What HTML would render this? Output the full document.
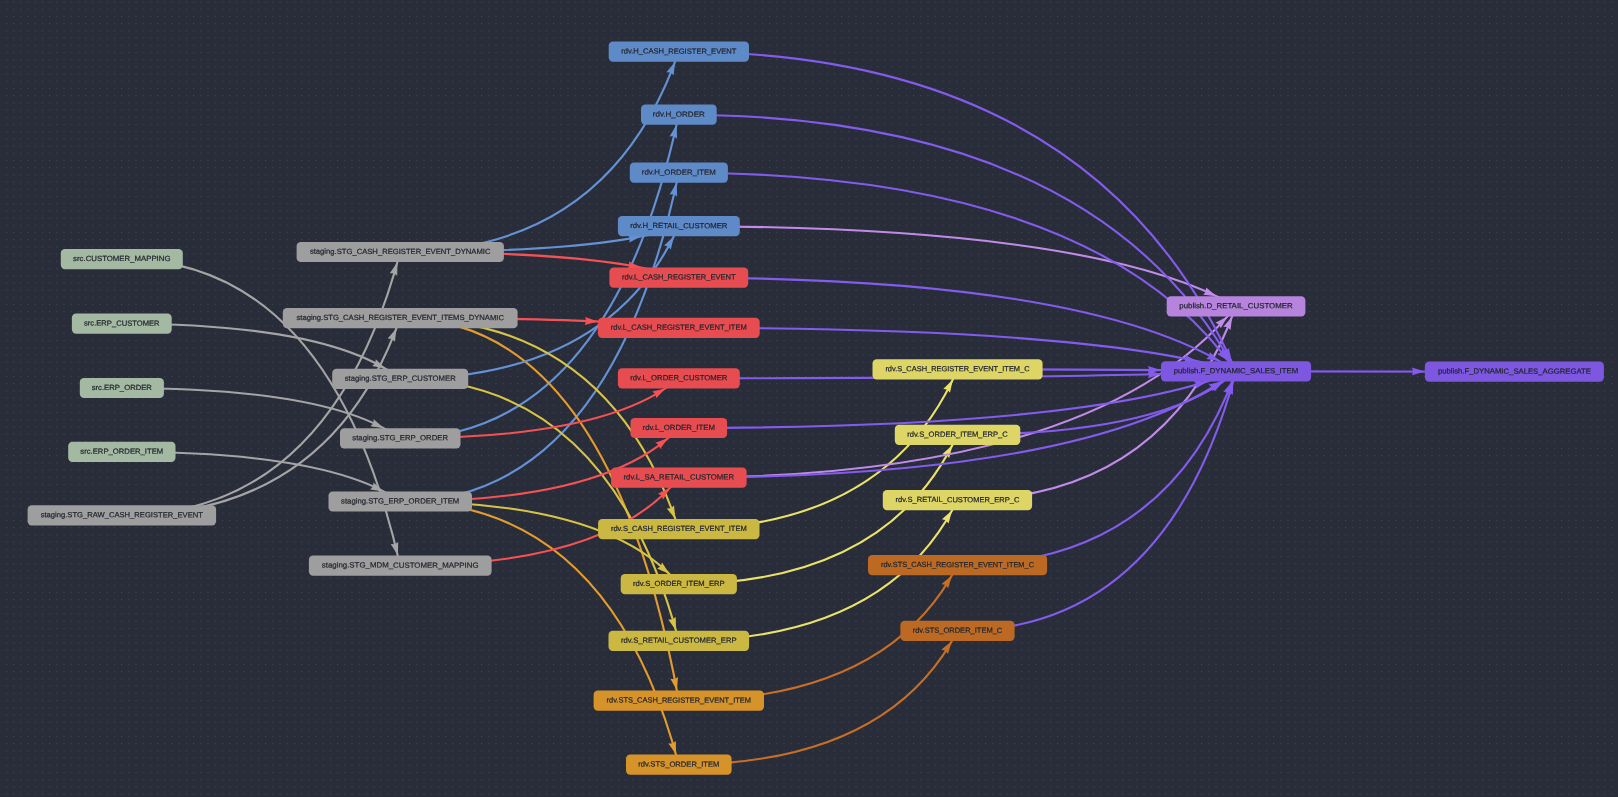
<!DOCTYPE html><html><head><meta charset="utf-8"><title>Lineage</title><style>html,body{margin:0;padding:0;background:#292d3a;overflow:hidden}svg{display:block;will-change:transform}text{font-family:"Liberation Sans",sans-serif;font-size:7.5px;fill:#23262f;stroke:#23262f;stroke-width:0.22px}</style></head><body>
<svg width="1618" height="797" viewBox="0 0 1618 797">
<defs><pattern id="dots" x="5.9" y="1.5" width="7.2" height="7.2" patternUnits="userSpaceOnUse"><rect x="-0.03" y="-0.03" width="1.06" height="1.06" fill="#434858"/></pattern></defs>
<rect width="1618" height="797" fill="#292d3a"/><rect width="1618" height="797" fill="url(#dots)"/>
<g stroke-width="2.1">
<path d="M121.8 259.1Q330.6 259.1 400.2 565.7" stroke="#a5a5a5" fill="none"/><polygon points="397.9,555.6 390.7,544.1 394.8,544.3 398.2,542.0" fill="#a5a5a5" stroke="none"/>
<path d="M121.8 323.7Q330.6 323.7 400.2 378.8" stroke="#a5a5a5" fill="none"/><polygon points="385.5,368.7 372.2,366.1 375.2,363.3 375.8,359.2" fill="#a5a5a5" stroke="none"/>
<path d="M121.8 388.0Q330.6 388.0 400.2 438.3" stroke="#a5a5a5" fill="none"/><polygon points="383.9,428.2 370.5,426.3 373.3,423.3 373.8,419.2" fill="#a5a5a5" stroke="none"/>
<path d="M121.8 451.8Q330.6 451.8 400.2 501.5" stroke="#a5a5a5" fill="none"/><polygon points="383.7,491.4 370.2,489.5 373.0,486.5 373.5,482.4" fill="#a5a5a5" stroke="none"/>
<path d="M121.8 515.4Q330.6 515.4 400.2 252.0" stroke="#a5a5a5" fill="none"/><polygon points="397.5,262.1 397.2,275.7 393.9,273.2 389.8,273.3" fill="#a5a5a5" stroke="none"/>
<path d="M121.8 515.4Q330.6 515.4 400.2 318.1" stroke="#a5a5a5" fill="none"/><polygon points="396.5,328.2 394.9,341.7 391.8,338.9 387.7,338.5" fill="#a5a5a5" stroke="none"/>
<path d="M400.2 252.0Q609.2 252.0 678.8 51.7" stroke="#6592d4" fill="none"/><polygon points="675.2,61.8 673.6,75.3 670.5,72.5 666.4,72.2" fill="#6592d4" stroke="none"/>
<path d="M400.2 438.3Q609.2 438.3 678.8 114.7" stroke="#6592d4" fill="none"/><polygon points="676.6,124.8 677.1,138.4 673.6,136.1 669.5,136.4" fill="#6592d4" stroke="none"/>
<path d="M400.2 501.5Q609.2 501.5 678.8 172.7" stroke="#6592d4" fill="none"/><polygon points="676.6,182.8 677.2,196.4 673.7,194.1 669.6,194.4" fill="#6592d4" stroke="none"/>
<path d="M400.2 318.1Q609.2 318.1 678.8 700.7" stroke="#e39c2d" fill="none"/><polygon points="676.9,690.6 670.4,678.7 674.4,679.2 678.0,677.1" fill="#e39c2d" stroke="none"/>
<path d="M400.2 501.5Q609.2 501.5 678.8 764.7" stroke="#e39c2d" fill="none"/><polygon points="676.1,754.6 668.4,743.4 672.5,743.5 675.8,741.0" fill="#e39c2d" stroke="none"/>
<path d="M400.2 252.0Q609.2 252.0 678.8 226.2" stroke="#6592d4" fill="none"/><polygon points="641.4,236.3 629.3,242.4 629.9,238.3 628.0,234.7" fill="#6592d4" stroke="none"/>
<path d="M400.2 378.8Q609.2 378.8 678.8 226.2" stroke="#6592d4" fill="none"/><polygon points="674.0,236.3 670.8,249.5 668.1,246.4 664.1,245.6" fill="#6592d4" stroke="none"/>
<path d="M400.2 318.1Q609.2 318.1 678.8 529.1" stroke="#d7c346" fill="none"/><polygon points="675.4,519.0 666.8,508.4 670.9,508.2 674.0,505.5" fill="#d7c346" stroke="none"/>
<path d="M400.2 378.8Q609.2 378.8 678.8 640.8" stroke="#d7c346" fill="none"/><polygon points="676.1,630.7 668.3,619.5 672.4,619.6 675.7,617.1" fill="#d7c346" stroke="none"/>
<path d="M400.2 501.5Q609.2 501.5 678.8 584.1" stroke="#d7c346" fill="none"/><polygon points="669.5,574.0 657.1,568.5 660.6,566.4 662.1,562.6" fill="#d7c346" stroke="none"/>
<path d="M400.2 252.0Q609.2 252.0 678.8 277.6" stroke="#f55255" fill="none"/><polygon points="641.1,267.5 627.6,269.1 629.5,265.5 628.9,261.4" fill="#f55255" stroke="none"/>
<path d="M400.2 318.1Q609.2 318.1 678.8 327.8" stroke="#f55255" fill="none"/><polygon points="597.9,321.5 584.8,324.9 586.2,321.0 585.1,317.1" fill="#f55255" stroke="none"/>
<path d="M400.2 438.3Q609.2 438.3 678.8 378.3" stroke="#f55255" fill="none"/><polygon points="665.5,388.4 656.2,398.3 655.4,394.3 652.3,391.6" fill="#f55255" stroke="none"/>
<path d="M400.2 501.5Q609.2 501.5 678.8 428.0" stroke="#f55255" fill="none"/><polygon points="668.2,438.1 660.1,449.0 658.8,445.1 655.4,442.8" fill="#f55255" stroke="none"/>
<path d="M400.2 565.7Q609.2 565.7 678.8 477.6" stroke="#f55255" fill="none"/><polygon points="670.1,487.7 663.2,499.4 661.5,495.6 657.9,493.7" fill="#f55255" stroke="none"/>
<path d="M678.8 529.1Q887.8 529.1 957.5 369.3" stroke="#eae26b" fill="none"/><polygon points="952.9,379.4 950.0,392.7 947.2,389.6 943.2,388.9" fill="#eae26b" stroke="none"/>
<path d="M678.8 584.1Q887.8 584.1 957.5 434.8" stroke="#eae26b" fill="none"/><polygon points="952.5,444.9 949.2,458.1 946.6,455.0 942.5,454.1" fill="#eae26b" stroke="none"/>
<path d="M678.8 640.8Q887.8 640.8 957.5 500.2" stroke="#eae26b" fill="none"/><polygon points="952.2,510.3 948.5,523.4 945.9,520.2 941.9,519.2" fill="#eae26b" stroke="none"/>
<path d="M678.8 700.7Q887.8 700.7 957.5 565.2" stroke="#c76f26" fill="none"/><polygon points="952.0,575.3 948.1,588.3 945.5,585.1 941.6,584.0" fill="#c76f26" stroke="none"/>
<path d="M678.8 764.7Q887.8 764.7 957.5 630.9" stroke="#c76f26" fill="none"/><polygon points="951.9,641.0 947.9,654.0 945.4,650.7 941.4,649.6" fill="#c76f26" stroke="none"/>
<path d="M678.8 226.2Q1096.7 226.2 1236.0 306.3" stroke="#c18ce9" fill="none"/><polygon points="1216.7,296.2 1203.2,294.8 1205.8,291.7 1206.1,287.6" fill="#c18ce9" stroke="none"/>
<path d="M678.8 477.6Q1096.7 477.6 1236.0 306.3" stroke="#c18ce9" fill="none"/><polygon points="1227.4,316.4 1220.8,328.3 1219.0,324.6 1215.4,322.7" fill="#c18ce9" stroke="none"/>
<path d="M957.5 500.2Q1166.4 500.2 1236.0 306.3" stroke="#c18ce9" fill="none"/><polygon points="1232.2,316.4 1230.5,329.9 1227.4,327.1 1223.4,326.7" fill="#c18ce9" stroke="none"/>
<path d="M678.8 51.7Q1096.7 51.7 1236.0 371.3" stroke="#845ced" fill="none"/><polygon points="1231.5,361.2 1222.0,351.5 1226.0,350.9 1228.9,347.9" fill="#845ced" stroke="none"/>
<path d="M678.8 114.7Q1096.7 114.7 1236.0 371.3" stroke="#845ced" fill="none"/><polygon points="1230.4,361.2 1219.9,352.5 1223.9,351.5 1226.4,348.2" fill="#845ced" stroke="none"/>
<path d="M678.8 172.7Q1096.7 172.7 1236.0 371.3" stroke="#845ced" fill="none"/><polygon points="1228.6,361.2 1217.1,354.0 1220.9,352.4 1223.0,348.8" fill="#845ced" stroke="none"/>
<path d="M678.8 277.6Q1096.7 277.6 1236.0 371.3" stroke="#845ced" fill="none"/><polygon points="1219.7,361.2 1206.3,358.9 1209.2,356.0 1209.8,351.9" fill="#845ced" stroke="none"/>
<path d="M678.8 327.8Q1096.7 327.8 1236.0 371.3" stroke="#845ced" fill="none"/><polygon points="1197.3,361.2 1183.8,362.6 1185.8,359.0 1185.2,354.9" fill="#845ced" stroke="none"/>
<path d="M678.8 378.3Q1096.7 378.3 1236.0 371.3" stroke="#845ced" fill="none"/><polygon points="1161.0,374.0 1148.0,378.3 1149.3,374.3 1147.9,370.5" fill="#845ced" stroke="none"/>
<path d="M678.8 428.0Q1096.7 428.0 1236.0 371.3" stroke="#845ced" fill="none"/><polygon points="1207.5,381.4 1196.0,388.6 1196.2,384.5 1194.0,381.0" fill="#845ced" stroke="none"/>
<path d="M678.8 477.6Q1096.7 477.6 1236.0 371.3" stroke="#845ced" fill="none"/><polygon points="1221.8,381.4 1212.4,391.3 1211.6,387.2 1208.6,384.5" fill="#845ced" stroke="none"/>
<path d="M957.5 369.3Q1166.4 369.3 1236.0 371.3" stroke="#845ced" fill="none"/><polygon points="1160.9,370.0 1147.9,373.8 1149.3,369.9 1148.0,366.0" fill="#845ced" stroke="none"/>
<path d="M957.5 434.8Q1166.4 434.8 1236.0 371.3" stroke="#845ced" fill="none"/><polygon points="1223.5,381.4 1214.5,391.6 1213.6,387.6 1210.4,385.0" fill="#845ced" stroke="none"/>
<path d="M957.5 565.2Q1166.4 565.2 1236.0 371.3" stroke="#845ced" fill="none"/><polygon points="1232.2,381.4 1230.5,394.9 1227.4,392.1 1223.4,391.7" fill="#845ced" stroke="none"/>
<path d="M957.5 630.9Q1166.4 630.9 1236.0 371.3" stroke="#845ced" fill="none"/><polygon points="1233.2,381.4 1232.9,395.0 1229.6,392.5 1225.4,392.5" fill="#845ced" stroke="none"/>
<path d="M1236.0 371.3Q1444.8 371.3 1514.4 371.7" stroke="#845ced" fill="none"/><polygon points="1424.9,371.4 1411.9,375.3 1413.2,371.4 1411.9,367.5" fill="#845ced" stroke="none"/>
</g>
<g text-anchor="middle" style="filter:brightness(1)">
<rect x="60.8" y="249.0" width="122.0" height="20.2" rx="4.2" fill="#a3b9a2"/>
<text x="121.8" y="261.05" textLength="97.4" lengthAdjust="spacingAndGlyphs" transform="rotate(0.05 121.8 259.1)">src.CUSTOMER_MAPPING</text>
<rect x="71.9" y="313.6" width="99.8" height="20.2" rx="4.2" fill="#a3b9a2"/>
<text x="121.8" y="325.65" textLength="75.6" lengthAdjust="spacingAndGlyphs" transform="rotate(0.05 121.8 323.7)">src.ERP_CUSTOMER</text>
<rect x="79.8" y="377.9" width="84.1" height="20.2" rx="4.2" fill="#a3b9a2"/>
<text x="121.8" y="389.95" textLength="60.3" lengthAdjust="spacingAndGlyphs" transform="rotate(0.05 121.8 388.0)">src.ERP_ORDER</text>
<rect x="68.2" y="441.7" width="107.3" height="20.2" rx="4.2" fill="#a3b9a2"/>
<text x="121.8" y="453.75" textLength="82.9" lengthAdjust="spacingAndGlyphs" transform="rotate(0.05 121.8 451.8)">src.ERP_ORDER_ITEM</text>
<rect x="27.6" y="505.3" width="188.5" height="20.2" rx="4.2" fill="#9e9e9e"/>
<text x="121.8" y="517.35" textLength="162.2" lengthAdjust="spacingAndGlyphs" transform="rotate(0.05 121.8 515.4)">staging.STG_RAW_CASH_REGISTER_EVENT</text>
<rect x="296.6" y="241.9" width="207.3" height="20.2" rx="4.2" fill="#9e9e9e"/>
<text x="400.2" y="253.95" textLength="180.6" lengthAdjust="spacingAndGlyphs" transform="rotate(0.05 400.2 252.0)">staging.STG_CASH_REGISTER_EVENT_DYNAMIC</text>
<rect x="282.8" y="308.0" width="234.8" height="20.2" rx="4.2" fill="#9e9e9e"/>
<text x="400.2" y="320.05" textLength="207.4" lengthAdjust="spacingAndGlyphs" transform="rotate(0.05 400.2 318.1)">staging.STG_CASH_REGISTER_EVENT_ITEMS_DYNAMIC</text>
<rect x="332.2" y="368.7" width="136.0" height="20.2" rx="4.2" fill="#9e9e9e"/>
<text x="400.2" y="380.75" textLength="111.0" lengthAdjust="spacingAndGlyphs" transform="rotate(0.05 400.2 378.8)">staging.STG_ERP_CUSTOMER</text>
<rect x="340.0" y="428.2" width="120.5" height="20.2" rx="4.2" fill="#9e9e9e"/>
<text x="400.2" y="440.25" textLength="95.8" lengthAdjust="spacingAndGlyphs" transform="rotate(0.05 400.2 438.3)">staging.STG_ERP_ORDER</text>
<rect x="328.5" y="491.4" width="143.5" height="20.2" rx="4.2" fill="#9e9e9e"/>
<text x="400.2" y="503.45" textLength="118.2" lengthAdjust="spacingAndGlyphs" transform="rotate(0.05 400.2 501.5)">staging.STG_ERP_ORDER_ITEM</text>
<rect x="308.9" y="555.6" width="182.7" height="20.2" rx="4.2" fill="#9e9e9e"/>
<text x="400.2" y="567.65" textLength="156.8" lengthAdjust="spacingAndGlyphs" transform="rotate(0.05 400.2 565.7)">staging.STG_MDM_CUSTOMER_MAPPING</text>
<rect x="608.7" y="41.6" width="140.3" height="20.2" rx="4.2" fill="#5f8ac8"/>
<text x="678.8" y="53.65" textLength="115.1" lengthAdjust="spacingAndGlyphs" transform="rotate(0.05 678.8 51.7)">rdv.H_CASH_REGISTER_EVENT</text>
<rect x="641.0" y="104.6" width="75.7" height="20.2" rx="4.2" fill="#5f8ac8"/>
<text x="678.8" y="116.65" textLength="52.1" lengthAdjust="spacingAndGlyphs" transform="rotate(0.05 678.8 114.7)">rdv.H_ORDER</text>
<rect x="629.8" y="162.6" width="98.1" height="20.2" rx="4.2" fill="#5f8ac8"/>
<text x="678.8" y="174.65" textLength="73.9" lengthAdjust="spacingAndGlyphs" transform="rotate(0.05 678.8 172.7)">rdv.H_ORDER_ITEM</text>
<rect x="617.9" y="216.1" width="121.9" height="20.2" rx="4.2" fill="#5f8ac8"/>
<text x="678.8" y="228.15" textLength="97.2" lengthAdjust="spacingAndGlyphs" transform="rotate(0.05 678.8 226.2)">rdv.H_RETAIL_CUSTOMER</text>
<rect x="609.4" y="267.5" width="138.8" height="20.2" rx="4.2" fill="#e74d50"/>
<text x="678.8" y="279.55" textLength="113.6" lengthAdjust="spacingAndGlyphs" transform="rotate(0.05 678.8 277.6)">rdv.L_CASH_REGISTER_EVENT</text>
<rect x="597.9" y="317.7" width="161.8" height="20.2" rx="4.2" fill="#e74d50"/>
<text x="678.8" y="329.75" textLength="136.1" lengthAdjust="spacingAndGlyphs" transform="rotate(0.05 678.8 327.8)">rdv.L_CASH_REGISTER_EVENT_ITEM</text>
<rect x="617.9" y="368.2" width="121.9" height="20.2" rx="4.2" fill="#e74d50"/>
<text x="678.8" y="380.25" textLength="97.3" lengthAdjust="spacingAndGlyphs" transform="rotate(0.05 678.8 378.3)">rdv.L_ORDER_CUSTOMER</text>
<rect x="630.5" y="417.9" width="96.6" height="20.2" rx="4.2" fill="#e74d50"/>
<text x="678.8" y="429.95" textLength="72.4" lengthAdjust="spacingAndGlyphs" transform="rotate(0.05 678.8 428.0)">rdv.L_ORDER_ITEM</text>
<rect x="611.1" y="467.5" width="135.5" height="20.2" rx="4.2" fill="#e74d50"/>
<text x="678.8" y="479.55" textLength="110.5" lengthAdjust="spacingAndGlyphs" transform="rotate(0.05 678.8 477.6)">rdv.L_SA_RETAIL_CUSTOMER</text>
<rect x="598.1" y="519.0" width="161.4" height="20.2" rx="4.2" fill="#cbb842"/>
<text x="678.8" y="531.05" textLength="135.7" lengthAdjust="spacingAndGlyphs" transform="rotate(0.05 678.8 529.1)">rdv.S_CASH_REGISTER_EVENT_ITEM</text>
<rect x="620.7" y="574.0" width="116.2" height="20.2" rx="4.2" fill="#cbb842"/>
<text x="678.8" y="586.05" textLength="91.6" lengthAdjust="spacingAndGlyphs" transform="rotate(0.05 678.8 584.1)">rdv.S_ORDER_ITEM_ERP</text>
<rect x="608.5" y="630.7" width="140.6" height="20.2" rx="4.2" fill="#cbb842"/>
<text x="678.8" y="642.75" textLength="115.5" lengthAdjust="spacingAndGlyphs" transform="rotate(0.05 678.8 640.8)">rdv.S_RETAIL_CUSTOMER_ERP</text>
<rect x="593.6" y="690.6" width="170.4" height="20.2" rx="4.2" fill="#d6932a"/>
<text x="678.8" y="702.65" textLength="144.5" lengthAdjust="spacingAndGlyphs" transform="rotate(0.05 678.8 700.7)">rdv.STS_CASH_REGISTER_EVENT_ITEM</text>
<rect x="626.0" y="754.6" width="105.6" height="20.2" rx="4.2" fill="#d6932a"/>
<text x="678.8" y="766.65" textLength="81.2" lengthAdjust="spacingAndGlyphs" transform="rotate(0.05 678.8 764.7)">rdv.STS_ORDER_ITEM</text>
<rect x="872.5" y="359.2" width="170.1" height="20.2" rx="4.2" fill="#ddd565"/>
<text x="957.5" y="371.25" textLength="144.2" lengthAdjust="spacingAndGlyphs" transform="rotate(0.05 957.5 369.3)">rdv.S_CASH_REGISTER_EVENT_ITEM_C</text>
<rect x="894.8" y="424.7" width="125.5" height="20.2" rx="4.2" fill="#ddd565"/>
<text x="957.5" y="436.75" textLength="100.7" lengthAdjust="spacingAndGlyphs" transform="rotate(0.05 957.5 434.8)">rdv.S_ORDER_ITEM_ERP_C</text>
<rect x="882.8" y="490.1" width="149.3" height="20.2" rx="4.2" fill="#ddd565"/>
<text x="957.5" y="502.15" textLength="123.9" lengthAdjust="spacingAndGlyphs" transform="rotate(0.05 957.5 500.2)">rdv.S_RETAIL_CUSTOMER_ERP_C</text>
<rect x="868.0" y="555.1" width="179.1" height="20.2" rx="4.2" fill="#bc6924"/>
<text x="957.5" y="567.15" textLength="153.0" lengthAdjust="spacingAndGlyphs" transform="rotate(0.05 957.5 565.2)">rdv.STS_CASH_REGISTER_EVENT_ITEM_C</text>
<rect x="900.4" y="620.8" width="114.2" height="20.2" rx="4.2" fill="#bc6924"/>
<text x="957.5" y="632.85" textLength="89.6" lengthAdjust="spacingAndGlyphs" transform="rotate(0.05 957.5 630.9)">rdv.STS_ORDER_ITEM_C</text>
<rect x="1166.7" y="296.2" width="138.7" height="20.2" rx="4.2" fill="#b684dc"/>
<text x="1236.0" y="308.25" textLength="113.5" lengthAdjust="spacingAndGlyphs" transform="rotate(0.05 1236.0 306.3)">publish.D_RETAIL_CUSTOMER</text>
<rect x="1161.0" y="361.2" width="150.1" height="20.2" rx="4.2" fill="#7d57e0"/>
<text x="1236.0" y="373.25" textLength="124.6" lengthAdjust="spacingAndGlyphs" transform="rotate(0.05 1236.0 371.3)">publish.F_DYNAMIC_SALES_ITEM</text>
<rect x="1424.9" y="361.6" width="179.0" height="20.2" rx="4.2" fill="#7d57e0"/>
<text x="1514.4" y="373.65" textLength="153.0" lengthAdjust="spacingAndGlyphs" transform="rotate(0.05 1514.4 371.7)">publish.F_DYNAMIC_SALES_AGGREGATE</text>
</g></svg></body></html>
